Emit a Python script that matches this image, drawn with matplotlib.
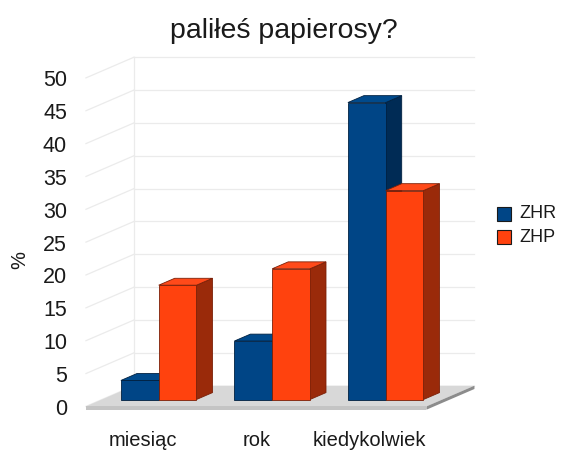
import matplotlib
matplotlib.use("Agg")
import matplotlib.pyplot as plt
from matplotlib.patches import Polygon, Rectangle
import numpy as np

plt.rcParams['font.family'] = ['Liberation Sans', 'DejaVu Sans']

# ---- data ----
categories = ["miesiąc", "rok", "kiedykolwiek"]
series_names = ["ZHR", "ZHP"]
zhr = [2.9, 8.9, 45.2]
zhp = [17.4, 19.9, 31.8]
yticks = [0, 5, 10, 15, 20, 25, 30, 35, 40, 45, 50]
title = "paliłeś papierosy?"
ylabel = "%"

# ---- style ----
front_cols = ["#004586", "#ff420e"]
top_cols = ["#004a8c", "#ff4a1a"]
side_cols = ["#002b55", "#9a2a0a"]
edge_cols = ["#002040", "#7a2008"]

W, H = 562, 453
fig = plt.figure(figsize=(W / 100, H / 100), dpi=100)
ax = fig.add_axes([0, 0, 1, 1])

# pixel scaling of the bar-front plane
px_per_cat = 113.5
px_per_val = 6.57
x0_px = 158.7
y0_px = 399.5
ax.set_xlim(-x0_px / px_per_cat, (W - x0_px) / px_per_cat)
ax.set_ylim((y0_px - H) / px_per_val, y0_px / px_per_val)
ax.axis("off")

# oblique depth vector for the full floor depth (data units)
DX = 48 / px_per_cat
DY = 20.7 / px_per_val
D_FRONT, D_BACK = 1 / 3, 2 / 3


def P(x, v, d):
    return (x + (d - D_FRONT) * DX, v + (d - D_FRONT) * DY)


n = len(categories)
bw = 0.333
xmin, xmax = -0.5, n - 0.5
vmax = yticks[-1]

# walls gridlines
grid_c = "#ebebeb"
for v in yticks:
    a, b = P(xmin, v, 1), P(xmax, v, 1)
    ax.plot([a[0], b[0]], [a[1], b[1]], color=grid_c, lw=0.9, zorder=1)
    c, d = P(xmin, v, 0), P(xmin, v, 1)
    ax.plot([c[0], d[0]], [c[1], d[1]], color=grid_c, lw=0.9, zorder=1)
a, b = P(xmin, 0, 1), P(xmin, vmax, 1)
ax.plot([a[0], b[0]], [a[1], b[1]], color=grid_c, lw=0.9, zorder=1)

# floor
th = 0.5  # floor thickness in value units
floor_top = [P(xmin, 0, 0), P(xmax, 0, 0), P(xmax, 0, 1), P(xmin, 0, 1)]
ax.add_patch(Polygon(floor_top, closed=True, fc="#d8d8d8", ec="none", zorder=2))
floor_front = [P(xmin, 0, 0), P(xmax, 0, 0), P(xmax, -th, 0), P(xmin, -th, 0)]
ax.add_patch(Polygon(floor_front, closed=True, fc="#c4c4c4", ec="none", zorder=2))
floor_side = [P(xmax, 0, 0), P(xmax, 0, 1), P(xmax, -th, 1), P(xmax, -th, 0)]
ax.add_patch(Polygon(floor_side, closed=True, fc="#8c8c8c", ec="none", zorder=2))

# bars
series = [zhr, zhp]
z = 3
for i in range(n):
    for s, vals in enumerate(series):
        left = i - bw + s * bw
        right = left + bw
        v = vals[i]
        top = [P(left, v, D_FRONT), P(right, v, D_FRONT), P(right, v, D_BACK), P(left, v, D_BACK)]
        side = [P(right, 0, D_FRONT), P(right, v, D_FRONT), P(right, v, D_BACK), P(right, 0, D_BACK)]
        ax.add_patch(Polygon(side, closed=True, fc=side_cols[s], ec=edge_cols[s], lw=0.6, zorder=z))
        ax.add_patch(Polygon(top, closed=True, fc=top_cols[s], ec=edge_cols[s], lw=0.6, zorder=z))
        ax.bar(left, v, width=bw, align="edge", color=front_cols[s], edgecolor=edge_cols[s],
               linewidth=0.6, zorder=z + 0.5)
        z += 1

# y tick labels at floor-front plane
for v in yticks:
    xx, yy = P(xmin, v, 0)
    ax.text((67 - x0_px) / px_per_cat, yy - 0.45, str(v), ha="right", va="center",
            fontsize=15.5, color="#1a1a1a")

# category labels
for i, c in enumerate(categories):
    xx, _ = P(i, 0, 0)
    ax.text(xx, (y0_px - 440) / px_per_val, c, ha="center", va="center",
            fontsize=14.5, color="#1a1a1a")

# y label
fig.text(20 / W, 1 - 260 / H, ylabel, rotation=90, ha="center", va="center",
         fontsize=14.5, color="#1a1a1a")

# title
fig.text(284 / W, 1 - 38 / H, title, ha="center", va="baseline", fontsize=20.5, color="#1a1a1a")

# legend (manual)
for s, name in enumerate(series_names):
    ytop = 206.7 + s * 23.3
    fig.patches.append(Rectangle((497.3 / W, 1 - (ytop + 14) / H), 14 / W, 14 / H,
                                 transform=fig.transFigure, fc=front_cols[s],
                                 ec="#1a1a1a", lw=0.8))
    fig.text(519 / W, 1 - (ytop + 7) / H, name, ha="left", va="center",
             fontsize=13, color="#1a1a1a")

fig.savefig("out.png", dpi=100)
